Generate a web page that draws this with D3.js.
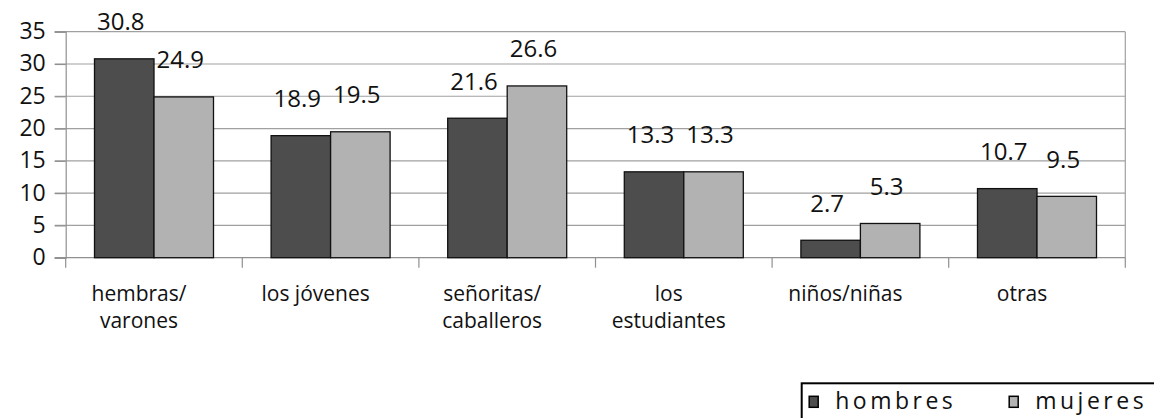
<!DOCTYPE html>
<html>
<head>
<meta charset="utf-8">
<script src="https://cdn.jsdelivr.net/npm/d3@7"></script>
<style>
  body { margin: 0; background: #fff; }
  svg { display: block; font-family: "Open Sans", sans-serif; }
</style>
</head>
<body>
<div id="wrapper"></div>
<script>
// data
const categories = [
  ["hembras/", "varones"],
  ["los jóvenes"],
  ["señoritas/", "caballeros"],
  ["los", "estudiantes"],
  ["niños/niñas"],
  ["otras"]
];
const seriesNames = ["hombres", "mujeres"];
const hombres = [30.8, 18.9, 21.6, 13.3, 2.7, 10.7];
const mujeres = [24.9, 19.5, 26.6, 13.3, 5.3, 9.5];
const yTicks = [0, 5, 10, 15, 20, 25, 30, 35];
const colors = ["#4d4d4d", "#b2b2b2"];

const table = categories.map((c, i) => ({
  key: c.join(" "),
  lines: c,
  values: [hombres[i], mujeres[i]]
}));

const W = 1154, H = 418;
const margin = {top: 31.7, right: 28.7, bottom: 160.3, left: 65.7};
const width = W - margin.left - margin.right;
const height = H - margin.top - margin.bottom;

const svg = d3.select("#wrapper").append("svg")
  .attr("width", W)
  .attr("height", H);

const g = svg.append("g")
  .attr("transform", `translate(${margin.left},${margin.top})`);

const x0 = d3.scaleBand()
  .domain(table.map(d => d.key))
  .range([0, width])
  .padding(0);

const x1 = d3.scaleBand()
  .domain(seriesNames)
  .range([0, x0.bandwidth()])
  .paddingInner(0)
  .paddingOuter(0.484);

const y = d3.scaleLinear()
  .domain([0, 35])
  .range([height, 0]);

// gridlines
g.append("g")
  .selectAll("line")
  .data(yTicks.filter(t => t > 0))
  .join("line")
  .attr("x1", -11)
  .attr("x2", width)
  .attr("y1", d => y(d))
  .attr("y2", d => y(d))
  .attr("stroke", "#a0a0a0")
  .attr("stroke-width", 1.2);

// right border of plot area
g.append("line")
  .attr("x1", width).attr("x2", width)
  .attr("y1", 0).attr("y2", height)
  .attr("stroke", "#a0a0a0")
  .attr("stroke-width", 1.2);

// y axis
const yAxis = d3.axisLeft(y)
  .tickValues(yTicks)
  .tickSize(11)
  .tickPadding(9)
  .tickFormat(d3.format("d"));

const yg = g.append("g").call(yAxis);
yg.select(".domain").attr("stroke", "#909090").attr("stroke-width", 1.2);
yg.selectAll(".tick line").attr("stroke", "#909090").attr("stroke-width", 1.2);
yg.selectAll(".tick text")
  .attr("font-size", 23)
  .attr("font-family", "Open Sans")
  .attr("fill", "#111")
  .attr("dy", "0.3em");

// x axis baseline and category ticks
g.append("line")
  .attr("x1", -11).attr("x2", width)
  .attr("y1", height).attr("y2", height)
  .attr("stroke", "#909090")
  .attr("stroke-width", 1.2);

g.append("g")
  .selectAll("line")
  .data(table.map(d => d.key).concat(["__end"]))
  .join("line")
  .attr("x1", d => d === "__end" ? width : x0(d))
  .attr("x2", d => d === "__end" ? width : x0(d))
  .attr("y1", height)
  .attr("y2", height + 10)
  .attr("stroke", "#909090")
  .attr("stroke-width", 1.2);

// category labels
const catText = g.append("g")
  .selectAll("text")
  .data(table)
  .join("text")
  .attr("x", d => x0(d.key) + x0.bandwidth() / 2 - 15)
  .attr("y", height + 43)
  .attr("text-anchor", "middle")
  .attr("font-size", 21)
  .attr("fill", "#111");

catText.selectAll("tspan")
  .data(d => d.lines.map(l => ({l, x: x0(d.key) + x0.bandwidth() / 2 - 15})))
  .join("tspan")
  .attr("x", d => d.x)
  .attr("dy", (d, i) => i === 0 ? 0 : 27)
  .text(d => d.l);

// bars
const groups = g.append("g")
  .selectAll("g")
  .data(table)
  .join("g")
  .attr("transform", d => `translate(${x0(d.key)},0)`);

groups.selectAll("rect")
  .data(d => d.values.map((v, i) => ({s: seriesNames[i], v, i})))
  .join("rect")
  .attr("x", d => x1(d.s))
  .attr("y", d => y(d.v))
  .attr("width", x1.bandwidth())
  .attr("height", d => y(0) - y(d.v))
  .attr("fill", d => colors[d.i])
  .attr("stroke", "#111")
  .attr("stroke-width", 1.3);

groups.selectAll("text")
  .data(d => d.values.map((v, i) => ({s: seriesNames[i], v})))
  .join("text")
  .attr("x", d => x1(d.s) + x1.bandwidth() / 2 - 3.5)
  .attr("y", d => y(d.v) - 28.5)
  .attr("text-anchor", "middle")
  .attr("font-size", 24)
  .attr("fill", "#111")
  .text(d => d3.format(".1f")(d.v));

// legend
const legend = svg.append("g").attr("transform", "translate(801.7,383.3)");
legend.append("rect")
  .attr("x", 0).attr("y", 0)
  .attr("width", 400).attr("height", 60)
  .attr("fill", "#fff")
  .attr("stroke", "#000")
  .attr("stroke-width", 2);

const legendX = d3.scaleOrdinal().domain(seriesNames).range([7.5, 207.5]);

const items = legend.selectAll("g.item")
  .data(seriesNames)
  .join("g")
  .attr("class", "item")
  .attr("transform", d => `translate(${legendX(d)},0)`);

items.append("rect")
  .attr("x", 0).attr("y", 13)
  .attr("width", 9).attr("height", 11)
  .attr("fill", (d, i) => colors[i])
  .attr("stroke", "#000")
  .attr("stroke-width", 1.5);

items.append("text")
  .attr("x", 26)
  .attr("y", 26)
  .attr("font-size", 23)
  .attr("letter-spacing", 3.5)
  .attr("fill", "#111")
  .text(d => d);
</script>
</body>
</html>
